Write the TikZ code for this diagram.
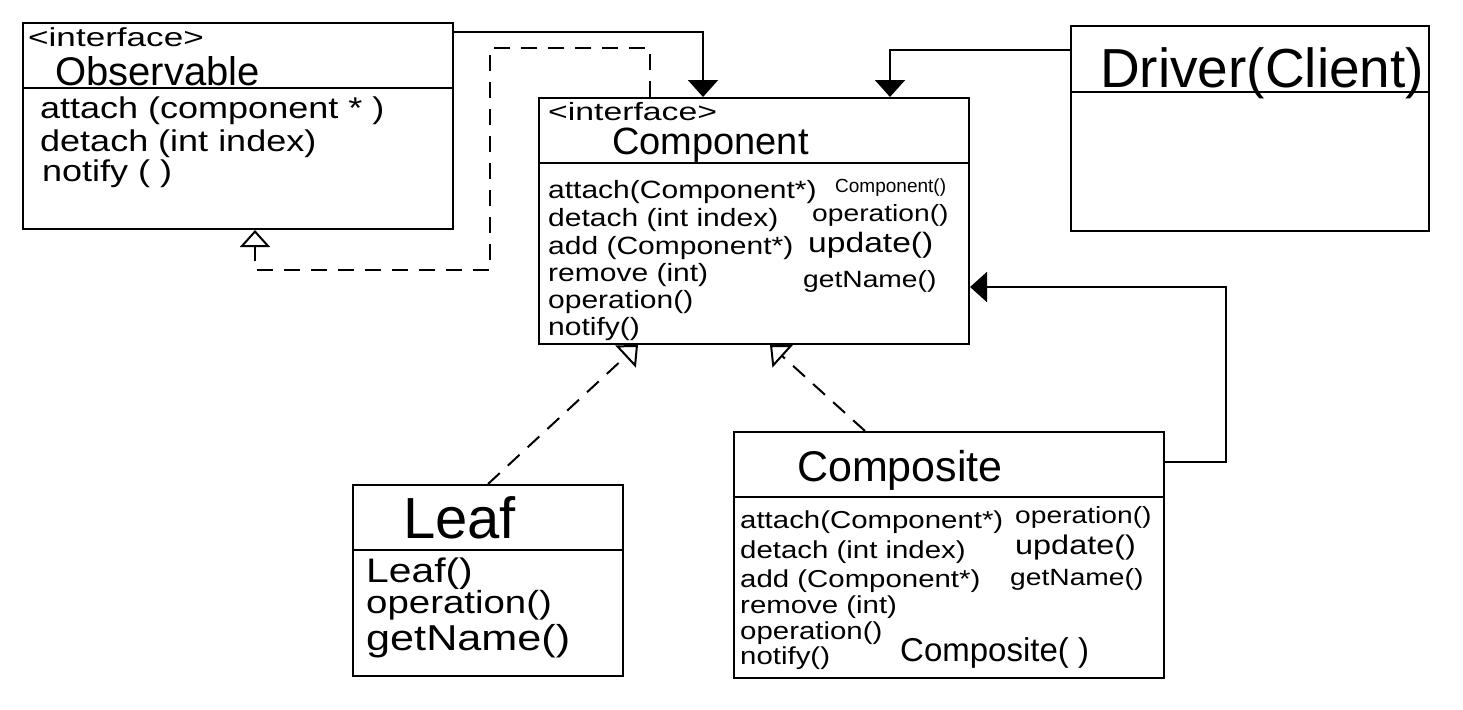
\documentclass[tikz,border=0pt]{standalone}
\usepackage{fontspec}
\newfontfamily\hand{Liberation Sans}
\newfontfamily\handw[FakeStretch=1.2]{Liberation Sans}
\newfontfamily\handst[FakeStretch=1.35]{Liberation Sans}
\usetikzlibrary{arrows.meta}
\begin{document}
\begin{tikzpicture}[x=1pt,y=-1pt,
  cls/.style={draw,line width=2pt,rectangle,inner sep=0pt,anchor=north west},
  divl/.style={line width=2pt},
  txt/.style={anchor=base west,inner sep=0pt},
  solidarr/.style={line width=2pt,-{Triangle[width=30pt,length=17pt]}},
  realarr/.style={line width=2pt,dash pattern=on 16pt off 11pt,-{Triangle[open,width=30pt,length=17pt,line width=2pt]}},
]
\useasboundingbox (0,0) rectangle (1463,709);

% ---- boxes
\node[cls,minimum width=430pt,minimum height=206pt] (obs) at (22,22) {};
\node[cls,minimum width=430pt,minimum height=246pt] (comp) at (538,97) {};
\node[cls,minimum width=358pt,minimum height=205pt] (drv) at (1070,25) {};
\node[cls,minimum width=270pt,minimum height=191pt] (leaf) at (352,484) {};
\node[cls,minimum width=430pt,minimum height=246pt] (compo) at (733,431) {};

% ---- dividers
\draw[divl] (obs.west |- 0,88) -- (obs.east |- 0,88);
\draw[divl] (comp.west |- 0,163) -- (comp.east |- 0,163);
\draw[divl] (drv.west |- 0,92) -- (drv.east |- 0,92);
\draw[divl] (leaf.west |- 0,550) -- (leaf.east |- 0,550);
\draw[divl] (compo.west |- 0,497) -- (compo.east |- 0,497);

% ---- Observable
\node[txt,font=\handst\fontsize{26}{30}\selectfont] (obsst) at (28,47) {<interface>};
\node[txt,font=\hand\fontsize{40}{44}\selectfont] (obsname) at (55,85) {Observable};
\node[txt,font=\handw\fontsize{30}{32}\selectfont] (obsm1) at (40,118) {attach (component * )};
\node[txt,font=\handw\fontsize{30}{32}\selectfont] (obsm2) at (40,151) {detach (int index)};
\node[txt,font=\handw\fontsize{30}{32}\selectfont] (obsm3) at (42,181) {notify ( )};

% ---- Component
\node[txt,font=\handst\fontsize{25}{30}\selectfont] (compst) at (548,120) {<interface>};
\node[txt,font=\hand\fontsize{38}{42}\selectfont] (compname) at (612,154) {Component};
\node[txt,font=\handw\fontsize{25}{27}\selectfont] (cl1) at (548,198) {attach(Component*)};
\node[txt,font=\handw\fontsize{25}{27}\selectfont] (cl2) at (548,226) {detach (int index)};
\node[txt,font=\handw\fontsize{25}{27}\selectfont] (cl3) at (548,254) {add (Component*)};
\node[txt,font=\handw\fontsize{25}{27}\selectfont] (cl4) at (548,281) {remove (int)};
\node[txt,font=\handw\fontsize{25}{27}\selectfont] (cl5) at (548,308) {operation()};
\node[txt,font=\handw\fontsize{25}{27}\selectfont] (cl6) at (548,335) {notify()};
\node[txt,font=\hand\fontsize{19}{22}\selectfont] (cr1) at (835,192) {Component()};
\node[txt,font=\handw\fontsize{23.5}{26}\selectfont] (cr2) at (812,221) {operation()};
\node[txt,font=\handw\fontsize{28}{30}\selectfont] (cr3) at (808,252) {update()};
\node[txt,font=\handw\fontsize{23.5}{26}\selectfont] (cr4) at (803,287) {getName()};

% ---- Driver
\node[txt,font=\hand\fontsize{55}{58}\selectfont] (drvname) at (1100,87) {Driver(Client)};

% ---- Leaf
\node[txt,font=\hand\fontsize{58}{62}\selectfont] (leafname) at (403,538) {Leaf};
\node[txt,font=\handw\fontsize{34}{36}\selectfont] (lm1) at (366,582) {Leaf()};
\node[txt,font=\handw\fontsize{32}{34}\selectfont] (lm2) at (366,613) {operation()};
\node[txt,font=\handw\fontsize{36}{38}\selectfont] (lm3) at (366,650) {getName()};

% ---- Composite
\node[txt,font=\hand\fontsize{43}{46}\selectfont] (componame) at (797,481) {Composite};
\node[txt,font=\handw\fontsize{24.5}{26}\selectfont] (pl1) at (740,528) {attach(Component*)};
\node[txt,font=\handw\fontsize{24.5}{26}\selectfont] (pl2) at (740,558) {detach (int index)};
\node[txt,font=\handw\fontsize{24.5}{26}\selectfont] (pl3) at (740,587) {add (Component*)};
\node[txt,font=\handw\fontsize{24.5}{26}\selectfont] (pl4) at (740,613) {remove (int)};
\node[txt,font=\handw\fontsize{24.5}{26}\selectfont] (pl5) at (740,639) {operation()};
\node[txt,font=\handw\fontsize{24.5}{26}\selectfont] (pl6) at (740,664) {notify()};
\node[txt,font=\handw\fontsize{23.5}{26}\selectfont] (pr1) at (1015,523) {operation()};
\node[txt,font=\handw\fontsize{27}{29}\selectfont] (pr2) at (1015,554) {update()};
\node[txt,font=\handw\fontsize{23.5}{26}\selectfont] (pr3) at (1010,585) {getName()};
\node[txt,font=\hand\fontsize{33}{36}\selectfont] (pr4) at (900,661) {Composite( )};

% ---- waypoints
\coordinate (w1) at (490,48);
\coordinate (w2) at (490,270);

% ---- connectors
\draw[solidarr] ([yshift=-10pt]obs.north east) -| ([xshift=165pt]comp.north west);
\draw[solidarr] ([yshift=-25pt]drv.north west) -| ([xshift=352pt]comp.north west);
\draw[solidarr] ([yshift=-31pt]compo.north east) -- ++(61,0) |- ([yshift=-190pt]comp.north east);
\draw[realarr] ([xshift=112pt]comp.north west) |- (w1) -- (w2) -| ([xshift=233pt]obs.south west);
\draw[realarr] ([xshift=136pt]leaf.north west) -- ([xshift=100pt]comp.south west);
\draw[realarr] ([xshift=132pt]compo.north west) -- ([xshift=232pt]comp.south west);
\end{tikzpicture}
\end{document}
